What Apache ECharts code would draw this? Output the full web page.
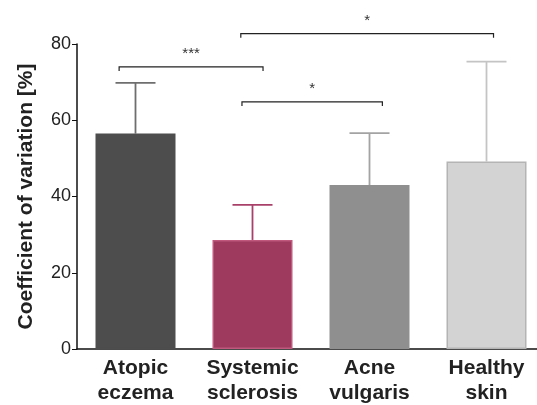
<!DOCTYPE html>
<html><head><meta charset="utf-8">
<script src="https://cdn.jsdelivr.net/npm/echarts@6/dist/echarts.min.js"></script>
<style>html,body{margin:0;padding:0;background:#fff}#c{width:537px;height:405px}</style>
</head><body><div id="c"></div>
<script>
const categories = ['Atopic\neczema', 'Systemic\nsclerosis', 'Acne\nvulgaris', 'Healthy\nskin'];
const means = [56.5, 28.6, 43.0, 49.2];
const upperErr = [69.8, 37.8, 56.6, 75.4];
const yTicks = [0, 20, 40, 60, 80];
const barColors = ['#4d4d4d', '#9d3a5e', '#8f8f8f', '#d3d3d3'];
const borderColors = ['#4d4d4d', '#c0587e', '#8f8f8f', '#b4b4b4'];
const errColors = ['#6e6e6e', '#a8406a', '#a3a3a3', '#c4c4c4'];
// significance brackets: [xStart, xEnd, yLevel, label]
const brackets = [
  [-0.14, 1.09, 74.0, '***'],
  [0.91, 2.11, 64.8, '*'],
  [0.90, 3.06, 82.7, '*']
];

const chart = echarts.init(document.getElementById('c'));
const bracketData = brackets.map(b => [b[0], b[1], b[2], b[3]]);
chart.setOption({
  animation: false,
  grid: {left: 77, width: 468, top: 44, bottom: 56, containLabel: false, outerBoundsMode: 'none'},
  xAxis: [{
    type: 'category', data: categories,
    axisLine: {lineStyle: {color: '#111', width: 1.5}},
    axisTick: {alignWithLabel: true, length: 4, lineStyle: {color: '#111'}},
    axisLabel: {color: '#222', fontSize: 21, fontWeight: 'bold', fontFamily: 'Liberation Sans, Arial', lineHeight: 25, margin: 7, interval: 0}
  }, {
    type: 'value', min: -0.5, max: 3.5, show: false
  }],
  yAxis: {
    type: 'value', min: 0, max: 80, interval: 20,
    name: 'Coefficient of variation [%]', nameLocation: 'middle', nameGap: 40,
    nameTextStyle: {fontSize: 21, fontWeight: 'bold', color: '#222', fontFamily: 'Liberation Sans, Arial'},
    axisLine: {show: true, onZero: false, lineStyle: {color: '#111', width: 1.5}},
    axisTick: {show: true, length: 5, lineStyle: {color: '#111'}},
    axisLabel: {color: '#222', fontSize: 18, fontFamily: 'Liberation Sans, Arial', margin: 6,
      formatter: v => yTicks.includes(v) ? String(v) : ''},
    splitLine: {show: false}
  },
  series: [{
    type: 'bar', data: means.map((v, i) => ({value: v, itemStyle: {color: barColors[i], borderColor: borderColors[i], borderWidth: 1.5}})),
    barWidth: 80, z: 2
  }, {
    type: 'custom', z: 1,
    data: means.map((v, i) => [i, v, upperErr[i]]),
    renderItem: (params, api) => {
      const i = api.value(0);
      const lo = api.coord([i, api.value(1)]);
      const hi = api.coord([i, api.value(2)]);
      const c = errColors[i];
      return {type: 'group', children: [
        {type: 'line', shape: {x1: lo[0], y1: lo[1], x2: hi[0], y2: hi[1]}, style: {stroke: c, lineWidth: 1.8}},
        {type: 'line', shape: {x1: hi[0] - 20, y1: hi[1], x2: hi[0] + 20, y2: hi[1]}, style: {stroke: c, lineWidth: 1.8}}
      ]};
    }
  }, {
    type: 'custom', xAxisIndex: 1, z: 3,
    data: bracketData,
    renderItem: (params, api) => {
      const a = api.coord([api.value(0), api.value(2)]);
      const b = api.coord([api.value(1), api.value(2)]);
      const lbl = brackets[params.dataIndex][3];
      return {type: 'group', children: [
        {type: 'polyline', shape: {points: [[a[0], a[1] + 4], a, b, [b[0], b[1] + 4]]}, style: {stroke: '#222', lineWidth: 1.2, fill: null}},
        {type: 'text', style: {text: lbl, x: (a[0] + b[0]) / 2, y: a[1] - 13, textAlign: 'center', textVerticalAlign: 'middle', fontSize: 15, fill: '#333', fontFamily: 'Liberation Sans, Arial'}}
      ]};
    }
  }]
});
</script></body></html>
